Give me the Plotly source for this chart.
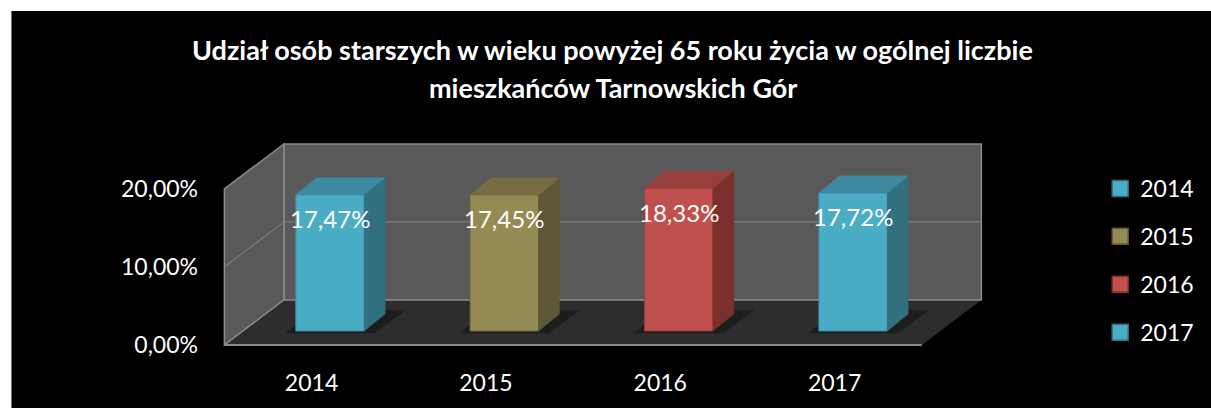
import plotly.graph_objects as go

# ---------------- data ----------------
categories = ["2014", "2015", "2016", "2017"]
values = [17.47, 17.45, 18.33, 17.72]
value_labels = ["17,47%", "17,45%", "18,33%", "17,72%"]
y_ticks = [0, 10, 20]
y_tick_labels = ["0,00%", "10,00%", "20,00%"]
title_lines = ["Udział osób starszych w wieku powyżej 65 roku życia w ogólnej liczbie",
               "mieszkańców Tarnowskich Gór"]

# ---------------- styles ----------------
front_colors = ["#4bacc6", "#948a54", "#c0504d", "#4bacc6"]
side_colors = ["#31707f", "#5e5735", "#7b302e", "#31707f"]
top_colors = ["#3d8aa0", "#766d44", "#973f3c", "#3d8aa0"]
FONT = "Lato"

W, H = 1211, 408
ML, MT = 200, 130
PW, PH = 800, 230
MR = W - ML - PW
MB = H - MT - PH
PX_X = 175.67        # pixels per category step
PX_Y = 7.8           # pixels per percentage point
BAR0_PX, FLOOR_PY = 331, 331   # pixel of first bar centre / bar base

x_range = [(ML - BAR0_PX) / PX_X, (ML + PW - BAR0_PX) / PX_X]
y_range = [(FLOOR_PY - (MT + PH)) / PX_Y, (FLOOR_PY - MT) / PX_Y]

# depth vectors (in axis units)
D = (60 / PX_X, 45 / PX_Y)            # full floor depth
t_bar = 0.31                           # bars' front face position in depth
F = (-t_bar * D[0], -t_bar * D[1])     # front plane offset
B = (F[0] + D[0], F[1] + D[1])         # back plane offset
BD = (21 / PX_X, 17 / PX_Y)            # bar depth
bar_w = 69 / PX_X
ymax = max(y_ticks)
n = len(categories)


def px_x(p):
    """window pixel -> paper x"""
    return (p - ML) / PW


def px_y(p):
    """window pixel -> paper y"""
    return (MT + PH - p) / PH


fig = go.Figure()

# front faces
for i, (c, v) in enumerate(zip(categories, values)):
    fig.add_trace(go.Bar(x=[i], y=[v], width=bar_w, name=c,
                         marker=dict(color=front_colors[i],
                                     line=dict(color=top_colors[i], width=1)),
                         legendgroup=c, showlegend=False, hoverinfo="skip"))
    # legend entry (square key like the original)
    fig.add_trace(go.Scatter(x=[None], y=[None], mode="markers", name=c,
                             marker=dict(symbol="square", size=16, color=front_colors[i],
                                         line=dict(color=side_colors[i], width=1.5)),
                             legendgroup=c, showlegend=True, hoverinfo="skip"))

# side & top faces
for i, v in enumerate(values):
    x1 = i + bar_w / 2
    x0 = i - bar_w / 2
    fig.add_trace(go.Scatter(x=[x1, x1, x1 + BD[0], x1 + BD[0], x1],
                             y=[0, v, v + BD[1], BD[1], 0],
                             fill="toself", fillcolor=side_colors[i], mode="lines",
                             line=dict(color=side_colors[i], width=0.5),
                             showlegend=False, hoverinfo="skip"))
    fig.add_trace(go.Scatter(x=[x0, x1, x1 + BD[0], x0 + BD[0], x0],
                             y=[v, v, v + BD[1], v + BD[1], v],
                             fill="toself", fillcolor=top_colors[i], mode="lines",
                             line=dict(color=top_colors[i], width=0.5),
                             showlegend=False, hoverinfo="skip"))

shapes = []
# white strips (outside the black chart area)
shapes.append(dict(type="rect", xref="paper", yref="paper", layer="below",
                   x0=px_x(-5), x1=px_x(10), y0=px_y(420), y1=px_y(-5),
                   fillcolor="white", line=dict(width=0)))
shapes.append(dict(type="rect", xref="paper", yref="paper", layer="below",
                   x0=px_x(-5), x1=px_x(1230), y0=px_y(11), y1=px_y(-5),
                   fillcolor="white", line=dict(width=0)))

xl, xr = -0.5, n - 0.5
# floor
shapes.append(dict(type="path", xref="x", yref="y", layer="below",
                   path=f"M {xl+F[0]},{F[1]} L {xr+F[0]},{F[1]} L {xr+B[0]},{B[1]} L {xl+B[0]},{B[1]} Z",
                   fillcolor="#2d2d2d", line=dict(width=0)))
# soft shadows under the bars
for i in range(n):
    x0, x1 = i - bar_w / 2, i + bar_w / 2
    shapes.append(dict(type="path", xref="x", yref="y", layer="below",
                       path=(f"M {x0-0.06},{-0.3} L {x1+0.06},{-0.3} "
                             f"L {x1+BD[0]+0.12},{BD[1]+0.5} L {x0+BD[0]-0.02},{BD[1]+0.5} Z"),
                       fillcolor="rgba(0,0,0,0.35)", line=dict(width=0)))
# back wall
shapes.append(dict(type="path", xref="x", yref="y", layer="below",
                   path=f"M {xl+B[0]},{B[1]} L {xr+B[0]},{B[1]} L {xr+B[0]},{B[1]+ymax} L {xl+B[0]},{B[1]+ymax} Z",
                   fillcolor="#595959", line=dict(color="#8a8a8a", width=1.5)))
# side wall
shapes.append(dict(type="path", xref="x", yref="y", layer="below",
                   path=f"M {xl+F[0]},{F[1]} L {xl+B[0]},{B[1]} L {xl+B[0]},{B[1]+ymax} L {xl+F[0]},{F[1]+ymax} Z",
                   fillcolor="#595959", line=dict(color="#8a8a8a", width=1.5)))
# floor front edge
shapes.append(dict(type="line", xref="x", yref="y", layer="below",
                   x0=xl + F[0], x1=xr + F[0], y0=F[1], y1=F[1],
                   line=dict(color="#8a8a8a", width=2)))
# gridlines
for t in y_ticks[1:-1]:
    shapes.append(dict(type="line", xref="x", yref="y", layer="below",
                       x0=xl + B[0], x1=xr + B[0], y0=B[1] + t, y1=B[1] + t,
                       line=dict(color="#868686", width=1)))
    shapes.append(dict(type="line", xref="x", yref="y", layer="below",
                       x0=xl + F[0], x1=xl + B[0], y0=F[1] + t, y1=B[1] + t,
                       line=dict(color="#868686", width=1)))

annotations = []
for i, (v, lab) in enumerate(zip(values, value_labels)):
    annotations.append(dict(x=i, y=v, xref="x", yref="y", text=lab, showarrow=False,
                            yshift=-24, font=dict(family=FONT, size=24, color="white")))
for line, py in zip(title_lines, [49, 88]):
    annotations.append(dict(x=px_x(616), y=px_y(py), xref="paper", yref="paper",
                            text=f"<b>{line}</b>", showarrow=False,
                            xanchor="center", yanchor="middle",
                            font=dict(family=FONT, size=27, color="white")))

fig.update_layout(
    width=W, height=H,
    margin=dict(l=ML, r=MR, t=MT, b=MB, pad=0),
    paper_bgcolor="black", plot_bgcolor="rgba(0,0,0,0)",
    barmode="overlay", showlegend=True,
    font=dict(family=FONT, color="white", size=23),
    xaxis=dict(range=x_range, showgrid=False, zeroline=False, showline=False,
               tickmode="array", tickvals=[i + F[0] for i in range(n)], ticktext=categories,
               ticks="", ticklabelstandoff=7, tickfont=dict(size=23, color="white")),
    yaxis=dict(range=y_range, showgrid=False, zeroline=False, showline=False,
               tickmode="array", tickvals=[t + F[1] for t in y_ticks], ticktext=y_tick_labels,
               ticks="", ticklabelstandoff=1, tickfont=dict(size=23, color="white")),
    legend=dict(x=px_x(1107), y=px_y(167), xanchor="left", yanchor="top",
                font=dict(family=FONT, size=23, color="white"),
                bgcolor="rgba(0,0,0,0)", traceorder="grouped", tracegroupgap=15,
                itemsizing="trace"),
    shapes=shapes, annotations=annotations,
)

fig.write_html("out.html", config={"displayModeBar": False},
               post_script="document.body.style.margin='0';"
                           "document.body.style.overflow='hidden';")
